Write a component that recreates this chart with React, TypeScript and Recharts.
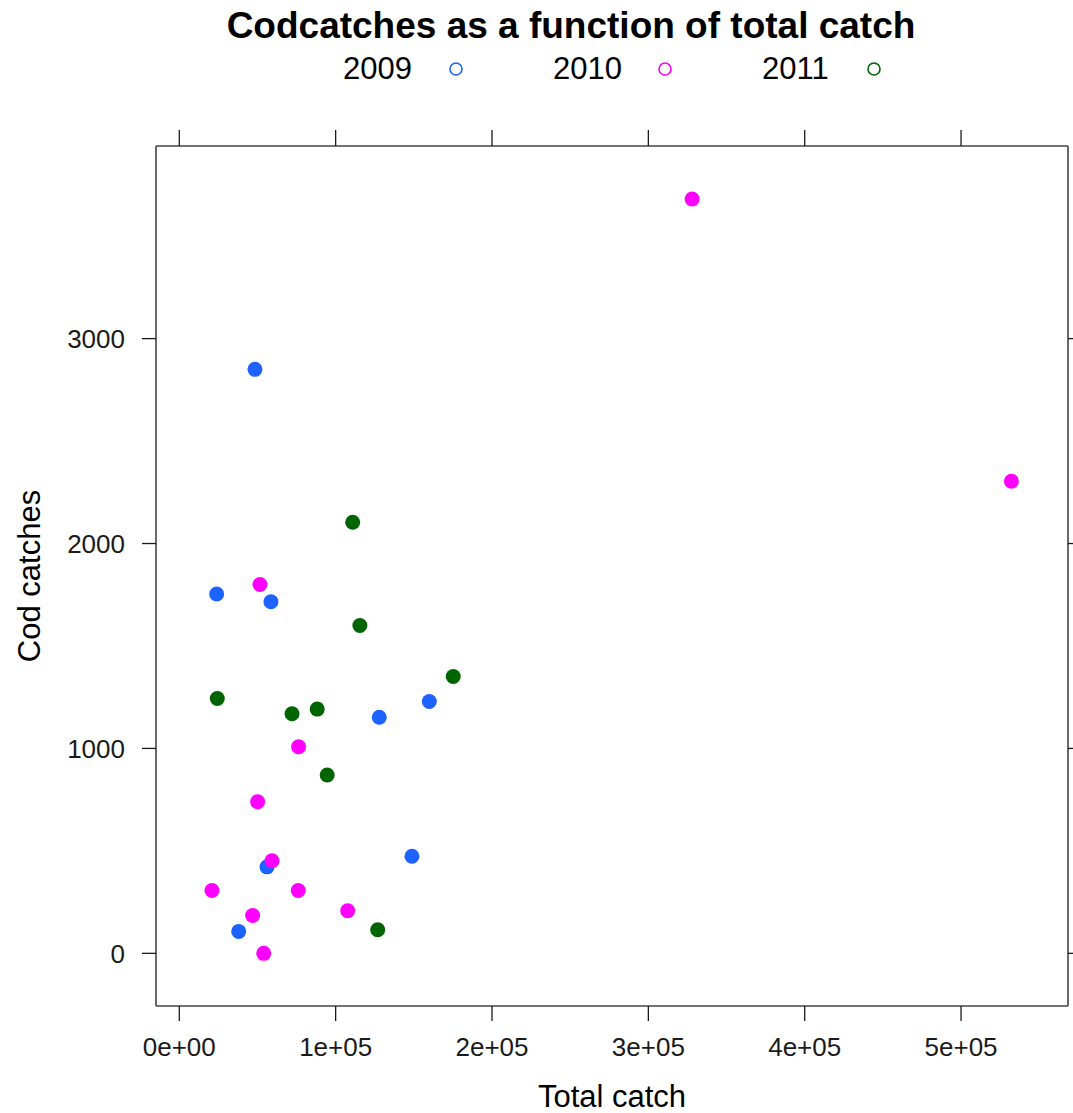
import React from 'react'
import { Customized, Scatter, ScatterChart, XAxis, YAxis } from 'recharts'

// values
const years = ['2009', '2010', '2011']
const yearColors = ['#1e62ff', '#ff00ff', '#006400']

const total2009 = [48400, 23900, 58600, 159900, 127900, 148800, 56100, 38000]
const cod2009 = [2850, 1754, 1716, 1229, 1152, 474, 422, 107]

const total2010 = [328000, 532200, 51600, 76300, 50100, 59300, 20900, 76100, 107700, 46900, 54000]
const cod2010 = [3681, 2304, 1800, 1008, 740, 452, 307, 307, 208, 185, 0]

const total2011 = [110900, 115500, 175200, 24300, 72100, 88200, 94600, 126900]
const cod2011 = [2104, 1600, 1351, 1244, 1169, 1192, 870, 115]

const xTicks = [0, 100000, 200000, 300000, 400000, 500000]
const yTicks = [0, 1000, 2000, 3000]

const font = '"Liberation Sans", Arial, sans-serif'
const frameColor = '#444'
const tickColor = '#1a1a1a'

const toPoints = (xs: number[], ys: number[]) => xs.map((x, i) => ({ total: x, cod: ys[i] }))
const series = [toPoints(total2009, cod2009), toPoints(total2010, cod2010), toPoints(total2011, cod2011)]

// R style scientific labels: 1e+05
const sci = (v: number) => {
    if (v === 0) return '0e+00'
    const exp = Math.floor(Math.log10(Math.abs(v)))
    const mant = v / Math.pow(10, exp)
    return `${mant}e+${String(exp).padStart(2, '0')}`
}

const Dot = (color: string) => (props: any) => <circle cx={props.cx} cy={props.cy} fill={color} r={7.5} />
const NoDot = () => <g />
// tick marks without labels on the top and right sides
const NoLabel = () => <g />

const legendX = [343, 553, 762]
const legendDotX = [456, 665, 874]

const Header = () => (
    <g fontFamily={font}>
        <text fill="#000" fontSize={37} fontWeight="bold" textAnchor="middle" x={571} y={38}>
            Codcatches as a function of total catch
        </text>
        {years.map((y, i) => (
            <g key={y}>
                <text fill="#000" fontSize={31} x={legendX[i]} y={79}>
                    {y}
                </text>
                <circle cx={legendDotX[i]} cy={69} fill="none" r={6} stroke={yearColors[i]} strokeWidth={1.6} />
            </g>
        ))}
        <text fill="#000" fontSize={31} textAnchor="middle" x={612} y={1107}>
            Total catch
        </text>
        <text fill="#000" fontSize={31} textAnchor="middle" transform="rotate(-90 40 576)" x={40} y={576}>
            Cod catches
        </text>
    </g>
)

const tickStyle = { fill: tickColor, fontFamily: font, fontSize: 26 }

const App = () => (
    <div style={{ background: '#fff', left: 0, position: 'absolute', top: 0 }}>
        <ScatterChart height={1113} margin={{ bottom: 0, left: 0, right: 4, top: 145 }} width={1073}>
            <XAxis
                axisLine={{ stroke: frameColor, strokeWidth: 1.6 }}
                dataKey="total"
                domain={[-14900, 568400]}
                height={107}
                tick={tickStyle}
                tickFormatter={sci}
                tickLine={{ stroke: tickColor, strokeWidth: 1.3 }}
                tickMargin={17}
                tickSize={15}
                ticks={xTicks}
                type="number"
            />
            <XAxis
                axisLine={{ stroke: frameColor, strokeWidth: 1.6 }}
                dataKey="total"
                domain={[-14900, 568400]}
                height={1}
                orientation="top"
                tick={NoLabel}
                tickLine={{ stroke: tickColor, strokeWidth: 1.3 }}
                tickSize={16}
                ticks={xTicks}
                type="number"
                xAxisId="top"
            />
            <YAxis
                axisLine={{ stroke: frameColor, strokeWidth: 1.6 }}
                dataKey="cod"
                domain={[-257, 3940]}
                tick={tickStyle}
                tickLine={{ stroke: tickColor, strokeWidth: 1.3 }}
                tickMargin={17}
                tickSize={14}
                ticks={yTicks}
                type="number"
                width={156}
            />
            <YAxis
                axisLine={{ stroke: frameColor, strokeWidth: 1.6 }}
                dataKey="cod"
                domain={[-257, 3940]}
                orientation="right"
                tick={NoLabel}
                tickLine={{ stroke: tickColor, strokeWidth: 1.3 }}
                tickSize={14}
                ticks={yTicks}
                type="number"
                width={1}
                yAxisId="right"
            />
            {series.map((pts, i) => (
                <Scatter data={pts} isAnimationActive={false} key={years[i]} name={years[i]} shape={Dot(yearColors[i])} />
            ))}
            {/* invisible copy so the top and right frame axes get drawn */}
            <Scatter data={series[1]} isAnimationActive={false} legendType="none" shape={NoDot} xAxisId="top" yAxisId="right" />
            <Customized component={Header} />
        </ScatterChart>
    </div>
)

export default App
